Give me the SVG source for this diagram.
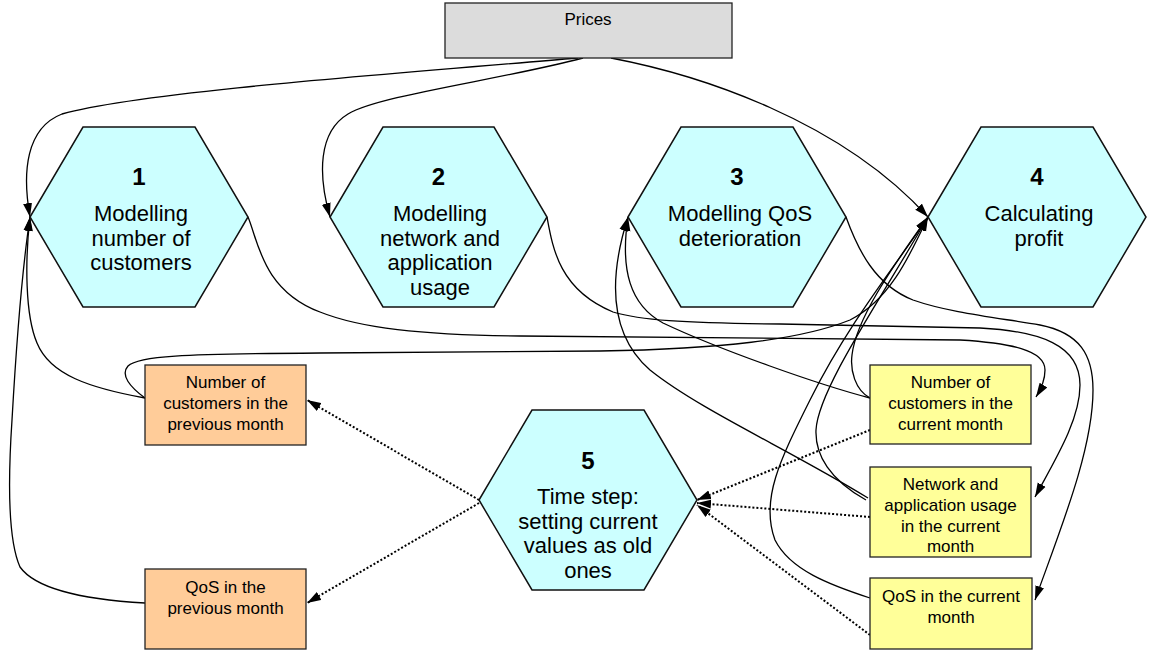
<svg xmlns="http://www.w3.org/2000/svg" width="1151" height="655" viewBox="0 0 1151 655">
<style>
text{font-family:"Liberation Sans",Arial,sans-serif;fill:#000;text-anchor:middle}
.hex{fill:#ccffff;stroke:#111;stroke-width:1.5}
.num{font-size:24px;font-weight:bold}
.hl{font-size:22px}
.bl{font-size:17px}
.box{stroke:#222;stroke-width:1.3}
.e{fill:none;stroke:#000;stroke-width:1.3;marker-end:url(#ah)}
.d{fill:none;stroke:#000;stroke-width:2;stroke-dasharray:2,2;marker-end:url(#ah)}
</style>
<defs>
<marker id="ah" markerUnits="userSpaceOnUse" markerWidth="15" markerHeight="10" refX="14" refY="5" orient="auto" viewBox="0 0 15 10">
<path d="M0,0.5 L14,5 L0,9.5 z" fill="#000"/>
</marker>
</defs>
<rect width="1151" height="655" fill="#fff"/>
<g id="connectors">
<path class="e" d="M578,58 C390,74 140,92 62,114 C26,128 22,172 30,217"/>
<path class="e" d="M583,58 C500,80 380,95 348,114 C318,132 318,175 330,217"/>
<path class="e" d="M611,58 C700,75 840,120 928,217"/>
<path class="e" d="M248,217 C258,240 262,290 320,312 C360,328 420,335 520,336 L960,340 C1010,343 1045,350 1045,370 C1045,380 1041,389 1036,397"/>
<path class="e" d="M547,217 C553,250 560,290 613,312 C640,320 680,323 780,324 L980,328 C1040,331 1080,345 1080,385 C1080,420 1055,460 1035,497"/>
<path class="e" d="M846,217 C858,250 875,285 913,300 C950,313 1000,318 1040,325 C1080,333 1093,355 1093,390 C1093,450 1060,530 1035,600"/>
<path class="e" d="M145,398 C130,387 120,375 128,366 C138,356 180,354 320,353 L600,351 C720,349 800,340 850,320 C890,300 910,255 928,217"/>
<path class="e" d="M145,398 C90,388 50,375 37,343 C25,315 25,260 30,217"/>
<path class="e" d="M145,603 C110,601 40,595 20,567 C8,540 8,480 12,420 C16,350 22,270 30,217"/>
<path class="e" d="M870,398 C820,385 720,350 663,323 C630,305 620,270 628,217"/>
<path class="e" d="M868,498 C790,450 700,410 650,370 C610,335 608,280 628,217"/>
<path class="e" d="M870,398 C855,390 850,370 852,355 C856,320 890,270 928,217"/>
<path class="e" d="M866,500 C830,480 815,455 816,430 C818,390 880,300 928,217"/>
<path class="e" d="M870,598 C830,585 790,570 775,540 C760,500 780,460 810,400 C850,320 900,260 928,217"/>
<path class="d" d="M479,500 L307,400"/>
<path class="d" d="M479,503 L307,603"/>
<path class="d" d="M870,430 L697,500"/>
<path class="d" d="M870,517 L697,503"/>
<path class="d" d="M870,635 L697,505"/>
</g>
<g id="prices">
<rect class="box" x="445" y="3" width="287" height="55" fill="#dcdcdc"/>
<text class="bl" x="588" y="25">Prices</text>
</g>
<g id="hex1">
<polygon class="hex" points="30,217 83,127 195,127 248,217 195,307 83,307"/>
<text class="num" x="139" y="185">1</text>
<text class="hl" x="141" y="221">Modelling</text>
<text class="hl" x="141" y="245.5">number of</text>
<text class="hl" x="141" y="270">customers</text>
</g>
<g id="hex2">
<polygon class="hex" points="330,217 383,127 494,127 547,217 494,307 383,307"/>
<text class="num" x="438.5" y="185">2</text>
<text class="hl" x="440" y="221">Modelling</text>
<text class="hl" x="440" y="245.5">network and</text>
<text class="hl" x="440" y="270">application</text>
<text class="hl" x="440" y="294.5">usage</text>
</g>
<g id="hex3">
<polygon class="hex" points="628,217 681,127 793,127 846,217 793,307 681,307"/>
<text class="num" x="737" y="185">3</text>
<text class="hl" x="740" y="221">Modelling QoS</text>
<text class="hl" x="740" y="245.5">deterioration</text>
</g>
<g id="hex4">
<polygon class="hex" points="928,217 981,127 1093,127 1146,217 1093,307 981,307"/>
<text class="num" x="1037" y="185">4</text>
<text class="hl" x="1039" y="221">Calculating</text>
<text class="hl" x="1039" y="245.5">profit</text>
</g>
<g id="hex5">
<polygon class="hex" points="479,500 532,410 644,410 697,500 644,590 532,590"/>
<text class="num" x="588" y="469">5</text>
<text class="hl" x="588" y="504">Time step:</text>
<text class="hl" x="588" y="528.5">setting current</text>
<text class="hl" x="588" y="553">values as old</text>
<text class="hl" x="588" y="577.5">ones</text>
</g>
<g id="prev_customers">
<rect class="box" x="145" y="365" width="161" height="80" fill="#ffcc99"/>
<text class="bl" x="225.5" y="388">Number of</text>
<text class="bl" x="225.5" y="409">customers in the</text>
<text class="bl" x="225.5" y="430">previous month</text>
</g>
<g id="prev_qos">
<rect class="box" x="145" y="569" width="161" height="80" fill="#ffcc99"/>
<text class="bl" x="225.5" y="593">QoS in the</text>
<text class="bl" x="225.5" y="614">previous month</text>
</g>
<g id="cur_customers">
<rect class="box" x="870" y="365" width="161" height="79" fill="#ffff99"/>
<text class="bl" x="950.5" y="388">Number of</text>
<text class="bl" x="950.5" y="409">customers in the</text>
<text class="bl" x="950.5" y="430">current month</text>
</g>
<g id="cur_usage">
<rect class="box" x="870" y="467" width="161" height="90" fill="#ffff99"/>
<text class="bl" x="950.5" y="490">Network and</text>
<text class="bl" x="950.5" y="511">application usage</text>
<text class="bl" x="950.5" y="532">in the current</text>
<text class="bl" x="950.5" y="552">month</text>
</g>
<g id="cur_qos">
<rect class="box" x="870" y="578" width="162" height="71" fill="#ffff99"/>
<text class="bl" x="951" y="602">QoS in the current</text>
<text class="bl" x="951" y="623">month</text>
</g>
</svg>
